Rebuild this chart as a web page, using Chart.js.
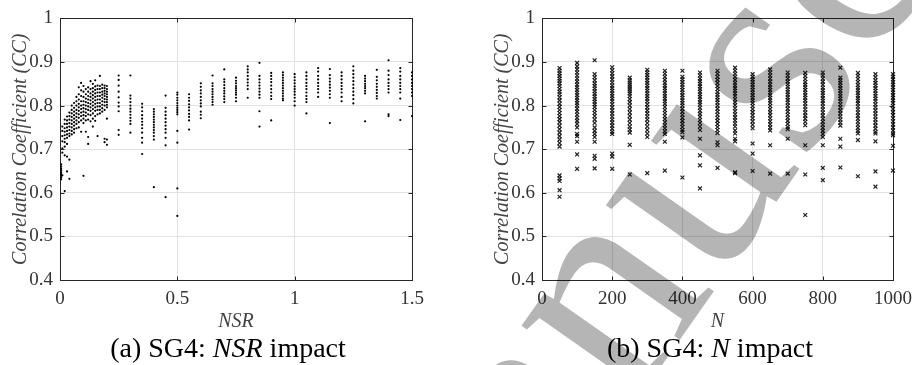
<!DOCTYPE html>
<html>
<head>
<meta charset="utf-8">
<script src="https://cdn.jsdelivr.net/npm/chart.js@4.4.1/dist/chart.umd.min.js"></script>
<style>
  body { margin: 0; background: #fff; width: 912px; height: 365px; position: relative; overflow: hidden;
         font-family: "Liberation Serif", serif; }
  canvas { position: absolute; top: 0; }
  #nsrChart { left: 0; }
  #nChart { left: 482px; }
  .caption { position: absolute; top: 334px; font-size: 28px; line-height: 28px; white-space: nowrap;
             color: #000; transform: translateX(-50%); }
  #stamp { left: 0; mix-blend-mode: multiply; pointer-events: none; }
</style>
</head>
<body>
<canvas id="nsrChart" width="456" height="334"></canvas>
<canvas id="nChart" width="456" height="334"></canvas>
<div class="caption" style="left:228px">(a) SG4: <i>NSR</i> impact</div>
<div class="caption" style="left:710px">(b) SG4: <i>N</i> impact</div>
<canvas id="stamp" width="912" height="365"></canvas>

<script>
Chart.defaults.font.family = 'Liberation Serif';

// tick positions
var ccTicks = [0.4, 0.5, 0.6, 0.7, 0.8, 0.9, 1];
var nsrTicks = [0, 0.5, 1, 1.5];
var nTicks = [0, 200, 400, 600, 800, 1000];

// (a) CC of every run, grouped by NSR setting
var nsrLevels = [0.005, 0.01, 0.02, 0.03, 0.04, 0.05, 0.06, 0.07, 0.08, 0.09, 0.10,
                 0.11, 0.12, 0.13, 0.14, 0.15, 0.16, 0.17, 0.18, 0.19, 0.20,
                 0.25, 0.30, 0.35, 0.40, 0.45, 0.50, 0.55, 0.60, 0.65, 0.70, 0.75,
                 0.80, 0.85, 0.90, 0.95, 1.00, 1.05, 1.10, 1.15, 1.20, 1.25, 1.30,
                 1.35, 1.40, 1.45, 1.50];
var nsrCC = [
    [0.665, 0.660, 0.655, 0.651, 0.647, 0.643, 0.639, 0.635, 0.631],
    [0.752, 0.742, 0.730, 0.718, 0.702, 0.692, 0.640],
    [0.768, 0.758, 0.748, 0.740, 0.732, 0.724, 0.716, 0.706, 0.686, 0.604],
    [0.775, 0.766, 0.758, 0.750, 0.742, 0.734, 0.726, 0.712, 0.683, 0.649],
    [0.784, 0.776, 0.768, 0.760, 0.752, 0.744, 0.736, 0.730, 0.676, 0.632],
    [0.800, 0.790, 0.782, 0.774, 0.766, 0.758, 0.750, 0.742, 0.734],
    [0.806, 0.795, 0.786, 0.778, 0.770, 0.762, 0.754, 0.746, 0.738],
    [0.820, 0.810, 0.800, 0.790, 0.782, 0.774, 0.766, 0.758, 0.748],
    [0.842, 0.826, 0.814, 0.804, 0.796, 0.788, 0.780, 0.772, 0.762, 0.750],
    [0.852, 0.835, 0.822, 0.810, 0.800, 0.792, 0.784, 0.776, 0.766, 0.740],
    [0.845, 0.832, 0.820, 0.810, 0.802, 0.794, 0.786, 0.778, 0.770, 0.760, 0.639],
    [0.838, 0.826, 0.816, 0.808, 0.800, 0.792, 0.784, 0.776, 0.766, 0.740],
    [0.842, 0.832, 0.822, 0.814, 0.806, 0.798, 0.790, 0.780, 0.768, 0.728, 0.712],
    [0.856, 0.838, 0.828, 0.820, 0.812, 0.804, 0.796, 0.788, 0.778, 0.764],
    [0.850, 0.840, 0.832, 0.824, 0.816, 0.808, 0.800, 0.792, 0.782, 0.770, 0.752],
    [0.858, 0.844, 0.836, 0.828, 0.820, 0.812, 0.804, 0.796, 0.788, 0.776, 0.765],
    [0.846, 0.838, 0.830, 0.822, 0.814, 0.806, 0.798, 0.790, 0.780, 0.730],
    [0.868, 0.845, 0.838, 0.830, 0.822, 0.814, 0.806, 0.798, 0.790, 0.782],
    [0.848, 0.840, 0.832, 0.825, 0.818, 0.810, 0.802, 0.794, 0.786],
    [0.846, 0.840, 0.834, 0.828, 0.822, 0.815, 0.808, 0.800, 0.790, 0.724, 0.716],
    [0.845, 0.838, 0.832, 0.826, 0.820, 0.814, 0.808, 0.802, 0.796, 0.770, 0.722, 0.710],
    [0.869, 0.859, 0.846, 0.832, 0.819, 0.807, 0.798, 0.787, 0.744, 0.733],
    [0.869, 0.823, 0.816, 0.808, 0.800, 0.793, 0.786, 0.779, 0.772, 0.765, 0.758, 0.738],
    [0.804, 0.796, 0.787, 0.778, 0.770, 0.763, 0.756, 0.748, 0.738, 0.726, 0.715, 0.689],
    [0.792, 0.786, 0.780, 0.774, 0.768, 0.762, 0.756, 0.750, 0.744, 0.738, 0.730, 0.722, 0.613],
    [0.823, 0.795, 0.786, 0.778, 0.770, 0.762, 0.754, 0.746, 0.738, 0.726, 0.709, 0.590],
    [0.830, 0.825, 0.818, 0.812, 0.806, 0.800, 0.795, 0.790, 0.785, 0.780, 0.742, 0.715, 0.610, 0.547],
    [0.826, 0.818, 0.811, 0.803, 0.796, 0.789, 0.781, 0.774, 0.766, 0.745],
    [0.851, 0.843, 0.835, 0.828, 0.820, 0.812, 0.805, 0.798, 0.786, 0.779, 0.771],
    [0.869, 0.851, 0.845, 0.838, 0.832, 0.826, 0.820, 0.814, 0.808, 0.802],
    [0.883, 0.860, 0.854, 0.847, 0.840, 0.834, 0.828, 0.821, 0.815, 0.808],
    [0.864, 0.857, 0.851, 0.845, 0.840, 0.835, 0.830, 0.825, 0.818, 0.810],
    [0.890, 0.883, 0.876, 0.868, 0.860, 0.853, 0.846, 0.838, 0.818],
    [0.898, 0.868, 0.860, 0.853, 0.846, 0.839, 0.832, 0.825, 0.818, 0.787, 0.752],
    [0.875, 0.868, 0.861, 0.854, 0.846, 0.838, 0.830, 0.822, 0.815, 0.766],
    [0.876, 0.870, 0.864, 0.858, 0.852, 0.846, 0.840, 0.834, 0.828, 0.822, 0.816, 0.812],
    [0.872, 0.865, 0.858, 0.851, 0.844, 0.838, 0.832, 0.825, 0.818, 0.810, 0.800],
    [0.876, 0.868, 0.860, 0.852, 0.845, 0.838, 0.830, 0.822, 0.815, 0.808, 0.782],
    [0.886, 0.878, 0.868, 0.860, 0.852, 0.845, 0.838, 0.830, 0.820],
    [0.884, 0.870, 0.862, 0.855, 0.848, 0.841, 0.834, 0.826, 0.818, 0.760],
    [0.876, 0.868, 0.860, 0.852, 0.845, 0.838, 0.830, 0.820, 0.810],
    [0.890, 0.880, 0.872, 0.864, 0.856, 0.848, 0.840, 0.832, 0.824, 0.815, 0.805],
    [0.868, 0.862, 0.856, 0.850, 0.845, 0.840, 0.834, 0.828, 0.764],
    [0.882, 0.866, 0.858, 0.850, 0.843, 0.836, 0.829, 0.822, 0.816],
    [0.904, 0.880, 0.870, 0.860, 0.852, 0.845, 0.838, 0.830, 0.780, 0.776],
    [0.886, 0.878, 0.868, 0.860, 0.852, 0.845, 0.838, 0.830, 0.816, 0.767],
    [0.876, 0.868, 0.860, 0.852, 0.845, 0.838, 0.830, 0.822, 0.776]
];

// (b) CC of every run, grouped by N
var nLevels = [50, 100, 150, 200, 250, 300, 350, 400, 450, 500,
               550, 600, 650, 700, 750, 800, 850, 900, 950, 1000];
var nCC = [
    [0.886, 0.880, 0.874, 0.868, 0.862, 0.857, 0.851, 0.845, 0.838, 0.832, 0.826, 0.819, 0.812, 0.804, 0.797, 0.790, 0.783, 0.776, 0.769, 0.762, 0.754, 0.746, 0.738, 0.730, 0.722, 0.714, 0.706, 0.640, 0.633, 0.627, 0.606, 0.591],
    [0.898, 0.890, 0.883, 0.876, 0.869, 0.862, 0.855, 0.848, 0.842, 0.836, 0.830, 0.824, 0.818, 0.812, 0.806, 0.800, 0.793, 0.786, 0.779, 0.772, 0.765, 0.758, 0.750, 0.735, 0.730, 0.717, 0.688, 0.655],
    [0.904, 0.872, 0.865, 0.858, 0.851, 0.845, 0.839, 0.833, 0.827, 0.821, 0.815, 0.809, 0.803, 0.797, 0.790, 0.783, 0.776, 0.768, 0.760, 0.750, 0.742, 0.735, 0.728, 0.717, 0.685, 0.678, 0.656],
    [0.888, 0.881, 0.874, 0.867, 0.860, 0.853, 0.846, 0.840, 0.834, 0.828, 0.822, 0.816, 0.810, 0.803, 0.796, 0.789, 0.782, 0.775, 0.768, 0.761, 0.754, 0.747, 0.740, 0.735, 0.690, 0.683, 0.655],
    [0.864, 0.858, 0.853, 0.848, 0.843, 0.838, 0.833, 0.828, 0.822, 0.815, 0.808, 0.800, 0.792, 0.784, 0.776, 0.768, 0.760, 0.752, 0.745, 0.738, 0.710, 0.642],
    [0.882, 0.876, 0.870, 0.864, 0.858, 0.852, 0.846, 0.840, 0.834, 0.828, 0.822, 0.816, 0.810, 0.803, 0.796, 0.789, 0.782, 0.775, 0.768, 0.760, 0.752, 0.744, 0.736, 0.728, 0.645],
    [0.880, 0.873, 0.866, 0.859, 0.852, 0.846, 0.840, 0.834, 0.828, 0.822, 0.816, 0.810, 0.804, 0.797, 0.790, 0.783, 0.776, 0.769, 0.762, 0.755, 0.748, 0.741, 0.735, 0.717, 0.651],
    [0.880, 0.866, 0.860, 0.854, 0.848, 0.842, 0.836, 0.830, 0.824, 0.818, 0.812, 0.806, 0.800, 0.793, 0.786, 0.779, 0.772, 0.765, 0.758, 0.751, 0.744, 0.739, 0.727, 0.635],
    [0.876, 0.869, 0.862, 0.856, 0.850, 0.844, 0.838, 0.832, 0.826, 0.820, 0.814, 0.808, 0.802, 0.795, 0.788, 0.781, 0.774, 0.767, 0.760, 0.752, 0.744, 0.724, 0.686, 0.663, 0.610],
    [0.880, 0.873, 0.866, 0.859, 0.852, 0.845, 0.838, 0.831, 0.825, 0.819, 0.813, 0.807, 0.800, 0.793, 0.786, 0.779, 0.772, 0.765, 0.758, 0.751, 0.744, 0.737, 0.716, 0.709, 0.657],
    [0.887, 0.880, 0.873, 0.866, 0.859, 0.852, 0.846, 0.840, 0.834, 0.828, 0.822, 0.815, 0.808, 0.801, 0.794, 0.787, 0.780, 0.773, 0.766, 0.759, 0.752, 0.743, 0.736, 0.724, 0.718, 0.647, 0.645],
    [0.872, 0.866, 0.860, 0.854, 0.848, 0.842, 0.836, 0.830, 0.824, 0.818, 0.812, 0.806, 0.799, 0.792, 0.785, 0.778, 0.771, 0.764, 0.756, 0.748, 0.713, 0.690, 0.650],
    [0.883, 0.876, 0.869, 0.862, 0.855, 0.848, 0.842, 0.836, 0.830, 0.824, 0.818, 0.812, 0.806, 0.799, 0.792, 0.785, 0.778, 0.771, 0.764, 0.757, 0.750, 0.743, 0.709, 0.644],
    [0.876, 0.869, 0.862, 0.855, 0.849, 0.843, 0.837, 0.831, 0.825, 0.819, 0.813, 0.807, 0.800, 0.793, 0.786, 0.779, 0.772, 0.765, 0.758, 0.751, 0.746, 0.724, 0.644],
    [0.875, 0.868, 0.861, 0.854, 0.848, 0.842, 0.836, 0.830, 0.824, 0.818, 0.812, 0.805, 0.798, 0.791, 0.784, 0.777, 0.770, 0.763, 0.755, 0.709, 0.642, 0.549],
    [0.876, 0.869, 0.862, 0.855, 0.848, 0.841, 0.835, 0.829, 0.823, 0.817, 0.811, 0.805, 0.798, 0.791, 0.784, 0.777, 0.770, 0.763, 0.756, 0.749, 0.742, 0.735, 0.728, 0.709, 0.657, 0.629],
    [0.887, 0.864, 0.858, 0.852, 0.846, 0.840, 0.834, 0.828, 0.822, 0.816, 0.810, 0.803, 0.796, 0.789, 0.782, 0.775, 0.768, 0.761, 0.754, 0.724, 0.706, 0.658],
    [0.875, 0.868, 0.861, 0.854, 0.847, 0.841, 0.835, 0.829, 0.823, 0.817, 0.811, 0.805, 0.798, 0.791, 0.784, 0.777, 0.770, 0.763, 0.756, 0.749, 0.742, 0.736, 0.721, 0.638],
    [0.872, 0.865, 0.858, 0.852, 0.846, 0.840, 0.834, 0.828, 0.822, 0.816, 0.810, 0.803, 0.796, 0.789, 0.782, 0.775, 0.768, 0.761, 0.754, 0.747, 0.740, 0.736, 0.718, 0.649, 0.614],
    [0.872, 0.866, 0.860, 0.854, 0.848, 0.842, 0.836, 0.830, 0.824, 0.818, 0.812, 0.806, 0.799, 0.792, 0.785, 0.778, 0.771, 0.764, 0.757, 0.750, 0.743, 0.736, 0.732, 0.708, 0.651]
];

function toPoints(levels, columns) {
    var pts = [];
    levels.forEach(function (x, i) {
        columns[i].forEach(function (cc) { pts.push({x: x, y: cc}); });
    });
    return pts;
}

function fixedTicks(list) {
    return function (scale) { scale.ticks = list.map(function (v) { return {value: v}; }); };
}

// closed axes box with short inward ticks on all four sides
var axesBox = {
    id: 'axesBox',
    beforeDatasetsDraw: function (chart) {
        var ctx = chart.ctx, a = chart.chartArea, x = chart.scales.x, y = chart.scales.y;
        var l = Math.round(a.left) + 0.5, r = Math.round(a.right) + 0.5;
        var t = Math.round(a.top) + 0.5, b = Math.round(a.bottom) + 0.5;
        ctx.save();
        ctx.strokeStyle = '#262626';
        ctx.lineWidth = 1;
        ctx.beginPath();
        x.ticks.forEach(function (tk) {
            var px = Math.round(x.getPixelForValue(tk.value)) + 0.5;
            ctx.moveTo(px, b); ctx.lineTo(px, b - 4);
            ctx.moveTo(px, t); ctx.lineTo(px, t + 4);
        });
        y.ticks.forEach(function (tk) {
            var py = Math.round(y.getPixelForValue(tk.value)) + 0.5;
            ctx.moveTo(l, py); ctx.lineTo(l + 4, py);
            ctx.moveTo(r, py); ctx.lineTo(r - 4, py);
        });
        ctx.stroke();
        ctx.strokeRect(l, t, r - l, b - t);
        ctx.restore();
    }
};

function scatterOptions(xTicks, xTitle, padRight) {
    return {
        responsive: false,
        animation: false,
        devicePixelRatio: 1,
        events: [],
        layout: {padding: {top: 15, right: padRight, bottom: 0, left: 0}},
        plugins: {legend: {display: false}, tooltip: {enabled: false}},
        scales: {
            x: {
                type: 'linear',
                min: xTicks[0],
                max: xTicks[xTicks.length - 1],
                afterBuildTicks: fixedTicks(xTicks),
                afterFit: function (s) { s.height = 54; },
                grid: {color: '#e2e2e2', drawTicks: false},
                border: {display: false},
                ticks: {color: '#333', font: {family: 'Liberation Serif', size: 19}, padding: 8, maxRotation: 0,
                        callback: function (v) { return String(v); }},
                title: {display: true, text: xTitle, color: '#444',
                        font: {family: 'Liberation Serif', size: 20, style: 'italic'}, padding: 0}
            },
            y: {
                type: 'linear',
                min: ccTicks[0],
                max: ccTicks[ccTicks.length - 1],
                afterBuildTicks: fixedTicks(ccTicks),
                afterFit: function (s) { s.width = 60; },
                grid: {color: '#e2e2e2', drawTicks: false},
                border: {display: false},
                ticks: {color: '#333', font: {family: 'Liberation Serif', size: 19}, padding: 7,
                        callback: function (v) { return String(v); }},
                title: {display: true, text: 'Correlation Coefficient (CC)', color: '#444',
                        font: {family: 'Liberation Serif', size: 20, style: 'italic'},
                        padding: {top: 9, bottom: 0}}
            }
        }
    };
}

new Chart(document.getElementById('nsrChart'), {
    type: 'scatter',
    data: {
        datasets: [{
            data: toPoints(nsrLevels, nsrCC),
            pointStyle: 'circle',
            pointRadius: 1.1,
            backgroundColor: '#000',
            borderWidth: 0,
            clip: 6
        }]
    },
    options: scatterOptions(nsrTicks, 'NSR', 44),
    plugins: [axesBox]
});

// the canvas runs past the page edge so the last "1000" label is cut like the axis end
new Chart(document.getElementById('nChart'), {
    type: 'scatter',
    data: {
        datasets: [{
            data: toPoints(nLevels, nCC),
            pointStyle: 'crossRot',
            pointRadius: 2.7,
            borderColor: 'rgba(10,10,10,0.9)',
            borderWidth: 1.2,
            clip: 6
        }]
    },
    options: scatterOptions(nTicks, 'N', 45),
    plugins: [axesBox]
});

// diagonal "Manuscript" stamp laid over the page
var stamp = document.getElementById('stamp').getContext('2d');
stamp.fillStyle = '#b5b5b5';
stamp.font = '300px "Liberation Serif"';
stamp.translate(401, 738);
stamp.rotate(-55 * Math.PI / 180);
stamp.fillText('Manuscript', 0, 0);
</script>
</body>
</html>
